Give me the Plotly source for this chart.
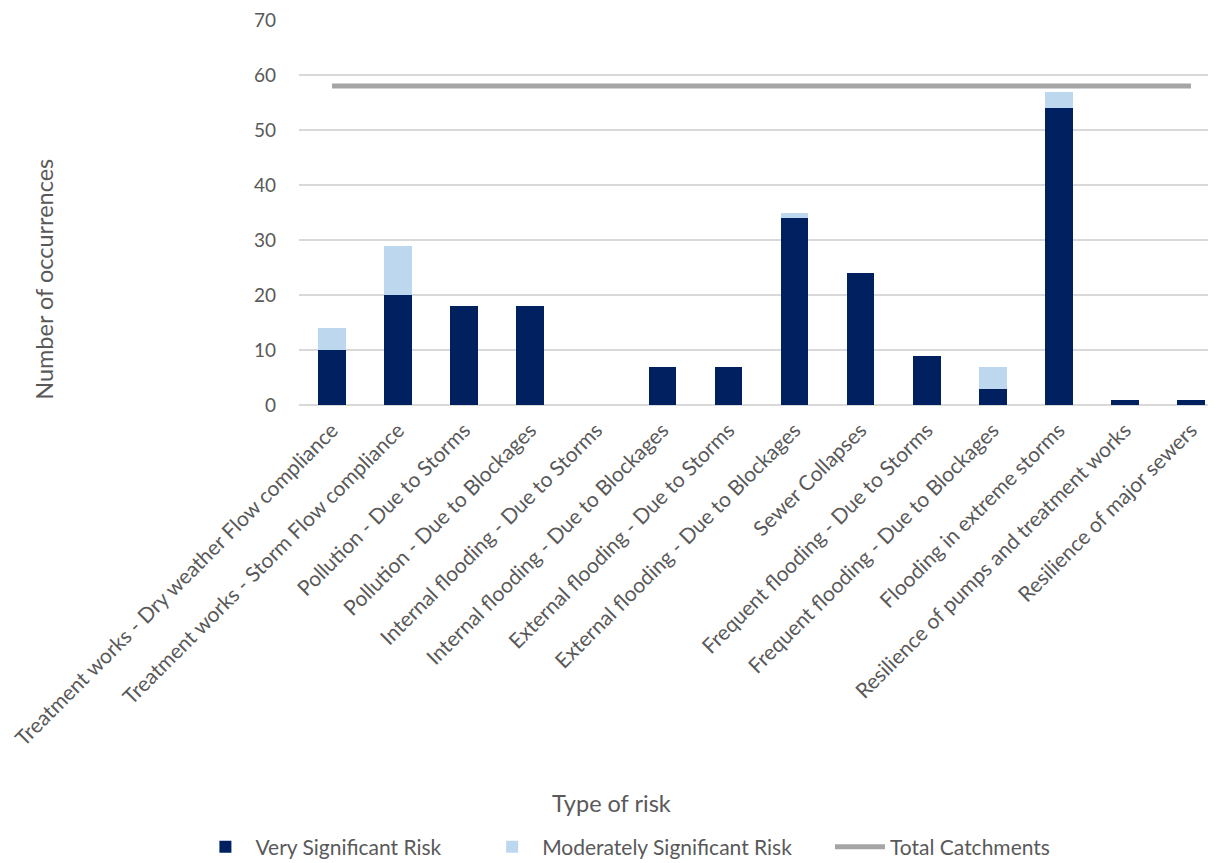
import plotly.graph_objects as go

categories = [
    "Treatment works - Dry weather Flow compliance",
    "Treatment works - Storm Flow compliance",
    "Pollution - Due to Storms",
    "Pollution - Due to Blockages",
    "Internal flooding - Due to Storms",
    "Internal flooding - Due to Blockages",
    "External flooding - Due to Storms",
    "External flooding - Due to Blockages",
    "Sewer Collapses",
    "Frequent flooding - Due to Storms",
    "Frequent flooding - Due to Blockages",
    "Flooding in extreme storms",
    "Resilience of pumps and treatment works",
    "Resilience of major sewers",
]
very_significant = [10, 20, 18, 18, 0, 7, 7, 34, 24, 9, 3, 54, 1, 1]
moderately_significant = [4, 9, 0, 0, 0, 0, 0, 1, 0, 0, 4, 3, 0, 0]
total_catchments = [58] * len(categories)

FONT = "Lato"
GREY = "#595959"

fig = go.Figure()
fig.add_trace(go.Bar(x=categories, y=very_significant, name="Very Significant Risk",
                     marker=dict(color="#002060", line=dict(width=0)), legend="legend"))
fig.add_trace(go.Bar(x=categories, y=moderately_significant, name="Moderately Significant Risk",
                     marker=dict(color="#BDD7EE", line=dict(width=0)), legend="legend2"))
fig.add_trace(go.Scatter(x=categories, y=total_catchments, name="Total Catchments",
                         mode="lines", line=dict(color="#A5A5A5", width=5), legend="legend3"))

legend_common = dict(orientation="h", xanchor="left", y=-1.148, yanchor="middle",
                     font=dict(size=21, color=GREY, family=FONT), itemwidth=50,
                     bgcolor="rgba(0,0,0,0)")

fig.update_layout(
    width=1216, height=863,
    barmode="stack", bargap=0.58,
    plot_bgcolor="white", paper_bgcolor="white",
    margin=dict(l=291, r=0, t=12, b=466, autoexpand=False),
    font=dict(family=FONT, color=GREY, size=18),
    showlegend=True,
    legend=dict(x=-0.112, **legend_common),
    legend2=dict(x=0.198, **legend_common),
    legend3=dict(x=0.574, **legend_common),
    annotations=[
        dict(text="Number of occurrences", xref="paper", yref="paper",
             x=-0.276, y=0.327, xanchor="center", yanchor="middle", textangle=-90,
             showarrow=False, font=dict(size=23.5, color=GREY, family=FONT)),
        dict(text="Type of risk", xref="paper", yref="paper",
             x=0.338, y=-1.034, xanchor="center", yanchor="middle",
             showarrow=False, font=dict(size=23.5, color=GREY, family=FONT)),
    ],
)
fig.update_xaxes(range=[-0.5, 13.5], tickangle=-45, showgrid=False, showline=False,
                 ticks="", ticklabelstandoff=8, tickfont=dict(size=21, color=GREY), automargin=False)
fig.update_yaxes(range=[0, 70], dtick=10, showgrid=True, gridcolor="#D9D9D9", gridwidth=1.5,
                 zeroline=True, zerolinecolor="#D9D9D9", zerolinewidth=1.5,
                 ticks="", ticklabelstandoff=22, ticklabeloverflow="allow",
                 tickfont=dict(size=19, color=GREY), automargin=False)

fig.write_html("out.html")
